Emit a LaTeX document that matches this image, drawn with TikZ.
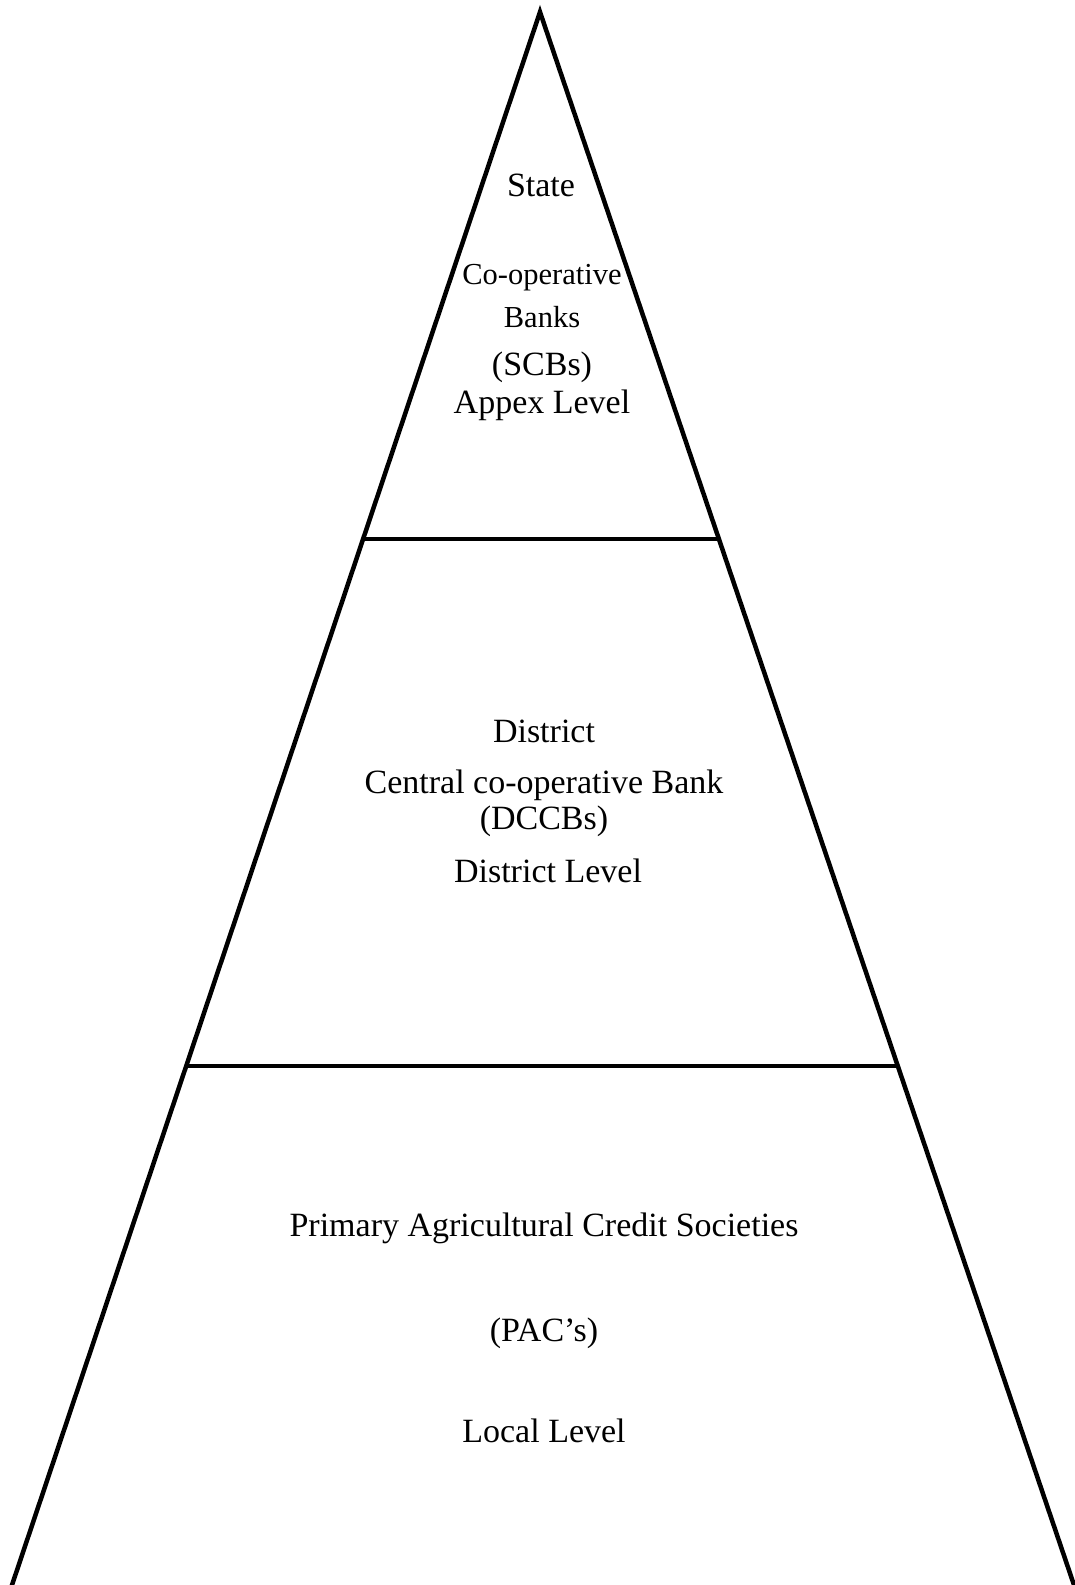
\documentclass[tikz,border=0pt]{standalone}
\usepackage{fontspec}
\setmainfont{Liberation Serif}
\usetikzlibrary{calc}
\begin{document}
\begin{tikzpicture}[x=1pt,y=-1pt,
  edge/.style={line width=4.5pt,line join=miter,line cap=butt},
  divider/.style={line width=4pt},
  lbl/.style={anchor=base,inner sep=0pt,font=\fontsize{34}{40}\selectfont},
  smalllbl/.style={lbl,font=\fontsize{30.5}{36}\selectfont}]
\useasboundingbox (0,0) rectangle (1074,1585);
\coordinate (apex) at (540,12);
\coordinate (bl) at (11,1588);
\coordinate (br) at (1075,1588);
\draw[edge] (bl) -- (apex) -- (br);
\coordinate (l1) at ($(apex)!0.3345!(bl)$);
\coordinate (r1) at ($(apex)!0.3345!(br)$);
\coordinate (l2) at ($(apex)!0.6690!(bl)$);
\coordinate (r2) at ($(apex)!0.6690!(br)$);
\draw[divider] (l1) -- (r1);
\draw[divider] (l2) -- (r2);
\node[lbl] (t1) at (541,196) {State};
\node[smalllbl] (t2) at (542,284) {Co-operative};
\node[smalllbl] (t3) at (542,327) {Banks};
\node[lbl] (t4) at (542,375) {(SCBs)};
\node[lbl] (t5) at (542,413) {Appex Level};
\node[lbl] (m1) at (544,742) {District};
\node[lbl] (m2) at (544,793) {Central co-operative Bank};
\node[lbl] (m3) at (544,829) {(DCCBs)};
\node[lbl] (m4) at (548,882) {District Level};
\node[lbl] (b1) at (544,1236) {Primary Agricultural Credit Societies};
\node[lbl] (b2) at (544,1341) {(PAC's)};
\node[lbl] (b3) at (544,1442) {Local Level};
\end{tikzpicture}
\end{document}
